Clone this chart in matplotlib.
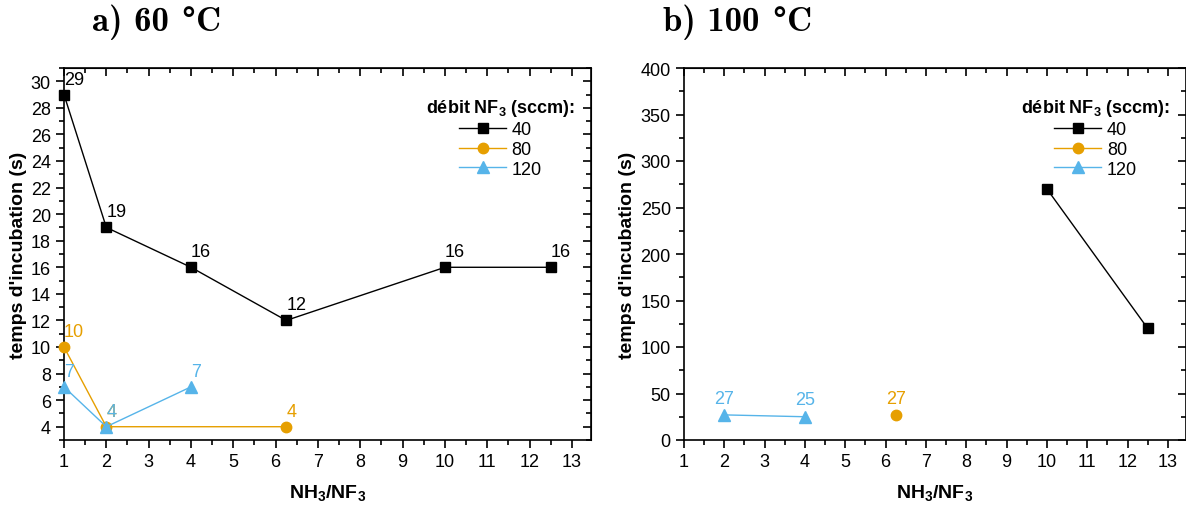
import matplotlib
matplotlib.use("Agg")
import matplotlib.pyplot as plt
from matplotlib.ticker import MultipleLocator

plt.rcParams["font.family"] = ["Liberation Sans", "DejaVu Sans"]
plt.rcParams["mathtext.fontset"] = "custom"
plt.rcParams["mathtext.rm"] = "Liberation Sans"
plt.rcParams["mathtext.bf"] = "Liberation Sans:bold"

# débit NF3 (sccm) series
flows = ["40", "80", "120"]
colors = {"40": "black", "80": "#E69F00", "120": "#56B4E9"}
markers = {"40": "s", "80": "o", "120": "^"}
msizes = {"40": 7, "80": 7.5, "120": 8.5}

# a) 60 °C
x60 = {"40": [1, 2, 4, 6.25, 10, 12.5], "80": [1, 2, 6.25], "120": [1, 2, 4]}
y60 = {"40": [29, 19, 16, 12, 16, 16], "80": [10, 4, 4], "120": [7, 4, 7]}

# b) 100 °C
x100 = {"40": [10, 12.5], "80": [6.25], "120": [2, 4]}
y100 = {"40": [270, 120], "80": [27], "120": [27, 25]}
labelled100 = {"40": False, "80": True, "120": True}

W, H = 1186, 506
fig = plt.figure(figsize=(W / 100, H / 100), dpi=100)
ax1 = fig.add_axes([64 / W, 65 / H, (591 - 64) / W, (441 - 69) / H])
ax2 = fig.add_axes([684 / W, 65 / H, (1186 - 684) / W, (441 - 69) / H])


def style(ax, ylim, major, minor):
    ax.set_xlim(1, 13.45)
    ax.set_ylim(*ylim)
    ax.xaxis.set_major_locator(MultipleLocator(1))
    ax.xaxis.set_minor_locator(MultipleLocator(0.5))
    ax.yaxis.set_major_locator(MultipleLocator(major))
    ax.yaxis.set_minor_locator(MultipleLocator(minor))
    ax.tick_params(which="both", direction="out", top=False, right=False, labelsize=13, width=1.2)
    ax.tick_params(which="major", length=6)
    ax.tick_params(which="minor", length=3.5)
    # inward ticks on top and right
    sec_x = ax.secondary_xaxis("top")
    sec_x.xaxis.set_major_locator(MultipleLocator(1))
    sec_x.xaxis.set_minor_locator(MultipleLocator(0.5))
    sec_x.tick_params(which="both", direction="in", labeltop=False, width=1.2)
    sec_x.tick_params(which="major", length=6)
    sec_x.tick_params(which="minor", length=3.5)
    sec_y = ax.secondary_yaxis("right")
    sec_y.yaxis.set_major_locator(MultipleLocator(major))
    sec_y.yaxis.set_minor_locator(MultipleLocator(minor))
    sec_y.tick_params(which="both", direction="in", labelright=False, width=1.2)
    sec_y.tick_params(which="major", length=6)
    sec_y.tick_params(which="minor", length=3.5)
    for sp in ax.spines.values():
        sp.set_linewidth(1.2)
    ax.set_xlabel("NH$_\\mathbf{3}$/NF$_\\mathbf{3}$", fontsize=14, fontweight="bold", labelpad=9)
    ax.set_ylabel("temps d'incubation (s)", fontsize=14, fontweight="bold", labelpad=3)
    ax.legend(title="débit NF$_\\mathbf{3}$ (sccm):", loc="upper right", bbox_to_anchor=(0.99, 0.95),
              frameon=False, fontsize=13, title_fontproperties={"weight": "bold", "size": 13},
              handlelength=2.6, handletextpad=0.3, labelspacing=0.15, borderaxespad=0.2)


for f in flows:
    ax1.plot(x60[f], y60[f], color=colors[f], marker=markers[f], markersize=msizes[f], lw=1, label=f,
             clip_on=False, zorder=3)
    for xv, yv in zip(x60[f], y60[f]):
        ax1.annotate(str(yv), (xv, yv), xytext=(0, 5), textcoords="offset points", ha="left",
                     va="bottom", color=colors[f], fontsize=13)
style(ax1, (3, 31), 2, 1)

for f in flows:
    ax2.plot(x100[f], y100[f], color=colors[f], marker=markers[f], markersize=msizes[f], lw=1, label=f,
             clip_on=False, zorder=3)
    if labelled100[f]:
        for xv, yv in zip(x100[f], y100[f]):
            ax2.annotate(str(yv), (xv, yv), xytext=(0, 6), textcoords="offset points", ha="center",
                         va="bottom", color=colors[f], fontsize=13)
style(ax2, (0, 400), 50, 25)

# panel titles: Computer Modern bold, degree sign taken from DejaVu Serif
renderer = fig.canvas.get_renderer()


def panel_title(x0, parts):
    x = x0
    for s, fam, size in parts:
        t = fig.text(x / W, 1 - 31 / H, s, family=fam, fontweight="bold", fontsize=size,
                     va="baseline", ha="left")
        x = t.get_window_extent(renderer).x1


panel_title(92, [("a) 60 ", "cmb10", 25), ("°", "DejaVu Serif", 23), ("C", "cmb10", 25)])
panel_title(663, [("b) 100 ", "cmb10", 25), ("°", "DejaVu Serif", 23), ("C", "cmb10", 25)])

fig.savefig("out.png", dpi=100)
